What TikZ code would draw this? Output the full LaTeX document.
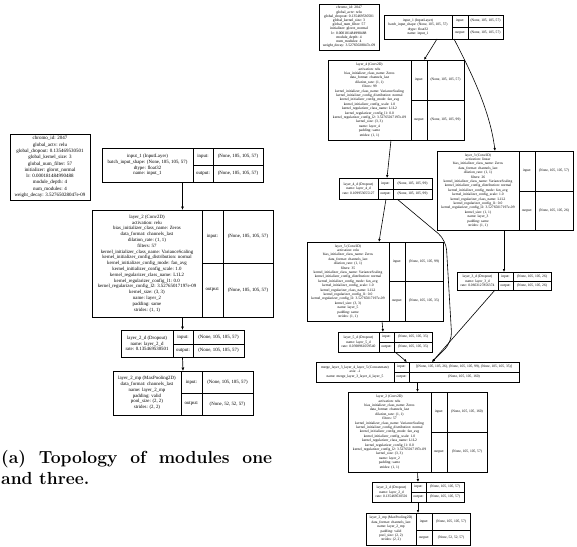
\documentclass[tikz,border=0pt]{standalone}
\usepackage{fontspec}
\newfontfamily\tms{Liberation Serif}
\usetikzlibrary{arrows.meta,calc}
\newcommand\fA{\tms\fontsize{4.85}{5.8}\selectfont}
\newcommand\fI{\tms\fontsize{5.0}{6.3}\selectfont}
\newcommand\fB{\tms\fontsize{3.6}{4.4}\selectfont}
\newcommand\fJ{\tms\fontsize{3.7}{4.2}\selectfont}
\tikzset{
  recbox/.style={draw, line width=0.9pt, inner sep=0pt, outer sep=0pt},
  recline/.style={line width=0.9pt},
  conn/.style={line width=0.7pt, -{Latex[length=3.5pt,width=3pt]}},
  connR/.style={line width=0.6pt, -{Latex[length=3pt,width=2.6pt]}},
}
% name x1 y1 x2 y2 c1 c2 ym
\newcommand\rec[8]{%
  \node[recbox, minimum width={(#4-#2)*1pt}, minimum height={(#5-#3)*1pt}, anchor=north west] (#1) at (#2,#3) {};
  \draw[recline] (#6,#3) -- (#6,#5) (#7,#3) -- (#7,#5) (#6,#8) -- (#4,#8);
  \coordinate (#1-t) at ({(#2+#6)/2},{(#3+#5)/2});
  \coordinate (#1-i) at ({(#6+#7)/2},{(#3+#8)/2});
  \coordinate (#1-iv) at ({(#7+#4)/2},{(#3+#8)/2});
  \coordinate (#1-o) at ({(#6+#7)/2},{(#8+#5)/2});
  \coordinate (#1-ov) at ({(#7+#4)/2},{(#8+#5)/2});
}
% name font main in out
\newcommand\rectext[5]{%
  \node[font=#2, align=center, inner sep=0pt] (#1-tx) at (#1-t) {#3};
  \node[font=#2, inner sep=0pt] (#1-il) at (#1-i) {input:};
  \node[font=#2, inner sep=0pt] (#1-iw) at (#1-iv) {#4};
  \node[font=#2, inner sep=0pt] (#1-ol) at (#1-o) {output:};
  \node[font=#2, inner sep=0pt] (#1-ow) at (#1-ov) {#5};
}
\begin{document}
\begin{tikzpicture}[x=1pt,y=-1pt]
\useasboundingbox (0,0) rectangle (577,546);
\fill[white] (0,0) rectangle (577,546);

% ---------------- left module ----------------
\node[recbox, minimum width=80pt, minimum height=66pt, anchor=north west] (Linfo) at (10,134) {};
\node[font=\fI, align=center, inner sep=0pt] (Linfo-tx) at (Linfo.center) {chromo\_id: 2047\\global\_actv: relu\\global\_dropout: 0.135469530501\\global\_kernel\_size: 3\\global\_num\_filter: 57\\initializer: glorot\_normal\\lr: 0.000181484990488\\module\_depth: 4\\num\_modules: 4\\weight\_decay: 3.52765028047e-09};

\rec{Lin}{102}{148}{263}{182}{193}{213}{165}
\rectext{Lin}{\fA}{input\_1 (InputLayer)\\batch\_input\_shape: (None, 105, 105, 57)\\dtype: float32\\name: input\_1}{(None, 105, 105, 57)}{(None, 105, 105, 57)}

\rec{Lc}{92}{210}{273}{317}{202}{223}{263}
\rectext{Lc}{\fA}{layer\_2 (Conv2D)\\activation: relu\\bias\_initializer\_class\_name: Zeros\\data\_format: channels\_last\\dilation\_rate: (1, 1)\\filters: 57\\kernel\_initializer\_class\_name: VarianceScaling\\kernel\_initializer\_config\_distribution: normal\\kernel\_initializer\_config\_mode: fan\_avg\\kernel\_initializer\_config\_scale: 1.0\\kernel\_regularizer\_class\_name: L1L2\\kernel\_regularizer\_config\_l1: 0.0\\kernel\_regularizer\_config\_l2: 3.52765017197e-09\\kernel\_size: (3, 3)\\name: layer\_2\\padding: same\\strides: (1, 1)}{(None, 105, 105, 57)}{(None, 105, 105, 57)}

\rec{Ld}{121}{330}{244}{357}{173}{193}{344}
\rectext{Ld}{\fA}{layer\_2\_d (Dropout)\\name: layer\_2\_d\\rate: 0.135469530501}{(None, 105, 105, 57)}{(None, 105, 105, 57)}

\rec{Lm}{113}{371}{253}{415}{181}{202}{393}
\rectext{Lm}{\fA}{layer\_2\_mp (MaxPooling2D)\\data\_format: channels\_last\\name: layer\_2\_mp\\padding: valid\\pool\_size: (2, 2)\\strides: (2, 2)}{(None, 105, 105, 57)}{(None, 52, 52, 57)}

\draw[conn] (Lin.south) -- (Lc.north);
\draw[conn] (Lc.south) -- (Ld.north);
\draw[conn] (Ld.south) -- (Lm.north);

% caption
\node[font=\fontsize{17.5}{21}\selectfont\bfseries, anchor=base west, inner sep=0pt] (cap1) at (1,463) {\makebox[271pt][s]{(a) Topology of modules one}};
\node[font=\fontsize{17.5}{21}\selectfont\bfseries, anchor=base west, inner sep=0pt] (cap2) at (1,484) {and three.};

% ---------------- right module ----------------
\node[recbox, line width=0.8pt, minimum width=60pt, minimum height=46pt, anchor=north west] (Rinfo) at (319,4) {};
\node[font=\fJ, align=center, inner sep=0pt] (Rinfo-tx) at (Rinfo.center) {chromo\_id: 2047\\global\_actv: relu\\global\_dropout: 0.135469530501\\global\_kernel\_size: 3\\global\_num\_filter: 57\\initializer: glorot\_normal\\lr: 0.000181484990488\\module\_depth: 4\\num\_modules: 4\\weight\_decay: 3.52765028047e-09};

\tikzset{recbox/.append style={line width=0.8pt}, recline/.style={line width=0.8pt}}

\rec{Rin}{384}{15}{503}{39}{452}{468}{27}
\rectext{Rin}{\fB}{input\_1 (InputLayer)\\batch\_input\_shape: (None, 105, 105, 57)\\dtype: float32\\name: input\_1}{(None, 105, 105, 57)}{(None, 105, 105, 57)}

\rec{R4}{328}{60}{464}{140}{411}{427}{100}
\rectext{R4}{\fB}{layer\_4 (Conv2D)\\activation: relu\\bias\_initializer\_class\_name: Zeros\\data\_format: channels\_last\\dilation\_rate: (1, 1)\\filters: 99\\kernel\_initializer\_class\_name: VarianceScaling\\kernel\_initializer\_config\_distribution: normal\\kernel\_initializer\_config\_mode: fan\_avg\\kernel\_initializer\_config\_scale: 1.0\\kernel\_regularizer\_class\_name: L1L2\\kernel\_regularizer\_config\_l1: 0.0\\kernel\_regularizer\_config\_l2: 3.52765017197e-09\\kernel\_size: (3, 3)\\name: layer\_4\\padding: same\\strides: (1, 1)}{(None, 105, 105, 57)}{(None, 105, 105, 99)}

\rec{R3}{437}{151}{573}{230}{519}{535}{191}
\rectext{R3}{\fB}{layer\_3 (Conv2D)\\activation: linear\\bias\_initializer\_class\_name: Zeros\\data\_format: channels\_last\\dilation\_rate: (1, 1)\\filters: 26\\kernel\_initializer\_class\_name: VarianceScaling\\kernel\_initializer\_config\_distribution: normal\\kernel\_initializer\_config\_mode: fan\_avg\\kernel\_initializer\_config\_scale: 1.0\\kernel\_regularizer\_class\_name: L1L2\\kernel\_regularizer\_config\_l1: 0.0\\kernel\_regularizer\_config\_l2: 3.52765017197e-09\\kernel\_size: (1, 1)\\name: layer\_3\\padding: same\\strides: (1, 1)}{(None, 105, 105, 57)}{(None, 105, 105, 26)}

\rec{R4d}{339}{178}{432}{199}{378}{393}{189}
\rectext{R4d}{\fB}{layer\_4\_d (Dropout)\\name: layer\_4\_d\\rate: 0.109953055127}{(None, 105, 105, 99)}{(None, 105, 105, 99)}

\rec{R5}{307}{242}{443}{321}{389}{405}{281}
\rectext{R5}{\fB}{layer\_5 (Conv2D)\\activation: relu\\bias\_initializer\_class\_name: Zeros\\data\_format: channels\_last\\dilation\_rate: (1, 1)\\filters: 35\\kernel\_initializer\_class\_name: VarianceScaling\\kernel\_initializer\_config\_distribution: normal\\kernel\_initializer\_config\_mode: fan\_avg\\kernel\_initializer\_config\_scale: 1.0\\kernel\_regularizer\_class\_name: L1L2\\kernel\_regularizer\_config\_l1: 0.0\\kernel\_regularizer\_config\_l2: 3.52765017197e-09\\kernel\_size: (3, 3)\\name: layer\_5\\padding: same\\strides: (1, 1)}{(None, 105, 105, 99)}{(None, 105, 105, 35)}

\rec{R3d}{457}{272}{551}{290}{498}{513}{281}
\rectext{R3d}{\fB}{layer\_3\_d (Dropout)\\name: layer\_3\_d\\rate: 0.0663127856374}{(None, 105, 105, 26)}{(None, 105, 105, 26)}

\rec{R5d}{338}{332}{432}{352}{379}{394}{342}
\rectext{R5d}{\fB}{layer\_5\_d (Dropout)\\name: layer\_5\_d\\rate: 0.0398961059540}{(None, 105, 105, 35)}{(None, 105, 105, 35)}

\rec{RM}{316}{362}{519}{382}{394}{409}{372}
\rectext{RM}{\fB}{merge\_layer\_3\_layer\_4\_layer\_5 (Concatenate)\\axis: -1\\name: merge\_layer\_3\_layer\_4\_layer\_5}{[(None, 105, 105, 26), (None, 105, 105, 99), (None, 105, 105, 35)]}{(None, 105, 105, 160)}

\rec{R2}{348}{392}{487}{472}{431}{447}{432}
\rectext{R2}{\fB}{layer\_2 (Conv2D)\\activation: relu\\bias\_initializer\_class\_name: Zeros\\data\_format: channels\_last\\dilation\_rate: (1, 1)\\filters: 57\\kernel\_initializer\_class\_name: VarianceScaling\\kernel\_initializer\_config\_distribution: normal\\kernel\_initializer\_config\_mode: fan\_avg\\kernel\_initializer\_config\_scale: 1.0\\kernel\_regularizer\_class\_name: L1L2\\kernel\_regularizer\_config\_l1: 0.0\\kernel\_regularizer\_config\_l2: 3.52765017197e-09\\kernel\_size: (3, 3)\\name: layer\_2\\padding: same\\strides: (1, 1)}{(None, 105, 105, 160)}{(None, 105, 105, 57)}

\rec{R2d}{372}{482}{464}{502}{411}{426}{492}
\rectext{R2d}{\fB}{layer\_2\_d (Dropout)\\name: layer\_2\_d\\rate: 0.135469530501}{(None, 105, 105, 57)}{(None, 105, 105, 57)}

\rec{R2m}{366}{513}{470}{545}{416}{432}{530}
\rectext{R2m}{\fB}{layer\_2\_mp (MaxPooling2D)\\data\_format: channels\_last\\name: layer\_2\_mp\\padding: valid\\pool\_size: (2, 2)\\strides: (2, 2)}{(None, 105, 105, 57)}{(None, 52, 52, 57)}

% right connectors
\draw[connR] ($(Rin.south west)+(53,0)$) -- ($(R4.north west)+(96,0)$);
\draw[connR] ($(Rin.south west)+(70,0)$) .. controls (470,70) and (490,110) .. ($(R3.north west)+(58,0)$);
\draw[connR] ($(R4.south west)+(63,0)$) -- ($(R4d.north west)+(48,0)$);
\draw[connR] ($(R4d.south west)+(47,0)$) -- ($(R5.north west)+(72,0)$);
\draw[connR, rounded corners=10pt] ($(R4d.south west)+(58,0)$) -- (446,240) -- (452,342) -- ($(RM.north west)+(116,0)$);
\draw[connR] ($(R3.south west)+(67,0)$) -- ($(R3d.north west)+(47,0)$);
\draw[connR] ($(R3d.south west)+(38,0)$) -- ($(RM.north west)+(116,0)$);
\draw[connR] ($(R5.south west)+(75,0)$) -- ($(R5d.north west)+(45,0)$);
\draw[connR] ($(R5d.south west)+(57,0)$) -- ($(RM.north west)+(91,0)$);
\draw[connR] (RM.south) -- (R2.north);
\draw[connR] (R2.south) -- (R2d.north);
\draw[connR] (R2d.south) -- (R2m.north);
\end{tikzpicture}
\end{document}
